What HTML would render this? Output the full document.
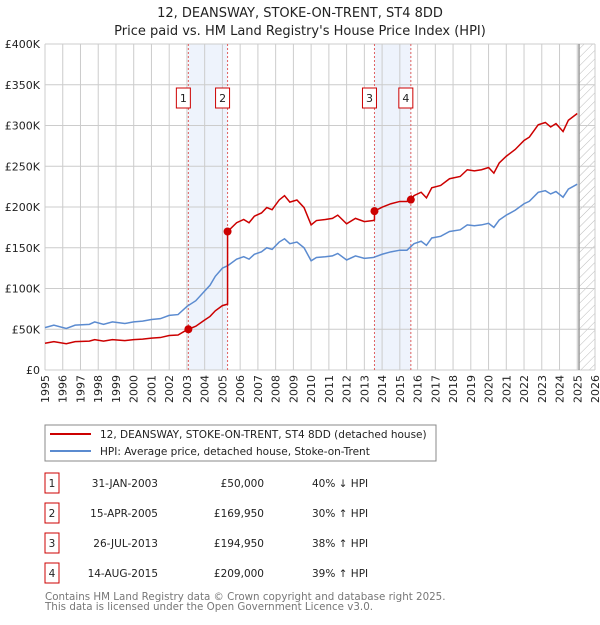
<!DOCTYPE html>
<html><head><meta charset="utf-8"><style>
body{margin:0;background:#fff;font-family:"Liberation Sans","DejaVu Sans",sans-serif;}
svg text{font-family:"DejaVu Sans","Liberation Sans",sans-serif;}
</style></head><body>
<svg id="c" width="600" height="620" xmlns="http://www.w3.org/2000/svg">
<defs><pattern id="hatch" width="6" height="6" patternUnits="userSpaceOnUse" patternTransform="rotate(45)"><line x1="0" y1="0" x2="0" y2="6" stroke="#bbb" stroke-width="1"/></pattern></defs>
<text x="300" y="17" text-anchor="middle" font-size="13" fill="#222">12, DEANSWAY, STOKE-ON-TRENT, ST4 8DD</text>
<text x="300" y="35" text-anchor="middle" font-size="13" fill="#222">Price paid vs. HM Land Registry's House Price Index (HPI)</text>
<g id="plot"></g>
<rect x="45" y="425" width="391" height="36" fill="#fff" stroke="#888"/>
<line x1="50" y1="434" x2="91" y2="434" stroke="#cc0000" stroke-width="2"/>
<text x="100" y="438" font-size="10.5" fill="#222">12, DEANSWAY, STOKE-ON-TRENT, ST4 8DD (detached house)</text>
<line x1="50" y1="451" x2="91" y2="451" stroke="#5b8bd0" stroke-width="2"/>
<text x="100" y="455" font-size="10.5" fill="#222">HPI: Average price, detached house, Stoke-on-Trent</text>
<g id="table" font-size="10.5" fill="#222"></g>
<text x="45" y="600" font-size="10.3" fill="#777">Contains HM Land Registry data © Crown copyright and database right 2025.</text>
<text x="45" y="610" font-size="10.3" fill="#777">This data is licensed under the Open Government Licence v3.0.</text>
</svg>
<script>
const hpiDates=[1995.0,1995.5,1996.2,1996.7,1997.5,1997.8,1998.3,1998.8,1999.5,2000,2000.5,2001,2001.5,2002,2002.5,2003,2003.5,2004,2004.3,2004.6,2005,2005.3,2005.8,2006.2,2006.5,2006.8,2007.2,2007.5,2007.8,2008.2,2008.5,2008.8,2009.2,2009.6,2010,2010.3,2010.8,2011.2,2011.5,2012,2012.5,2013,2013.5,2014,2014.5,2015,2015.4,2015.8,2016.2,2016.5,2016.8,2017.3,2017.8,2018.4,2018.8,2019.2,2019.6,2020,2020.3,2020.6,2021,2021.5,2022,2022.3,2022.8,2023.2,2023.5,2023.8,2024.2,2024.5,2025.0];
const hpiValues=[52,55,51,55,56,59,56,59,57,59,60,62,63,67,68,78,85,97,104,115,125,128,136,139,136,142,145,150,148,157,161,155,157,150,134,138,139,140,143,135,140,137,138,142,145,147,147,155,158,153,162,164,170,172,178,177,178,180,175,184,190,196,204,207,218,220,216,219,212,222,228];
const saleLabels=["1","2","3","4"];
const saleDates=[2003.08,2005.29,2013.57,2015.62];
const salePrices=[50,169.95,194.95,209];
const saleDateText=["31-JAN-2003","15-APR-2005","26-JUL-2013","14-AUG-2015"];
const salePriceText=["£50,000","£169,950","£194,950","£209,000"];
const saleHpiText=["40% ↓ HPI","30% ↑ HPI","38% ↑ HPI","39% ↑ HPI"];
const yTicks=[0,50,100,150,200,250,300,350,400];
const yTickLabels=["£0","£50K","£100K","£150K","£200K","£250K","£300K","£350K","£400K"];
const xYears=[];for(let y=1995;y<=2026;y++)xYears.push(y);

const X0=45,X1=595,Y0=370,Y1=44;
const x=t=>X0+(t-1995)/(2026-1995)*(X1-X0);
const y=v=>Y0-v/400*(Y0-Y1);
const NS="http://www.w3.org/2000/svg";
const g=document.getElementById('plot');
function mk(tag,attrs,parent){const e=document.createElementNS(NS,tag);for(const k in attrs)e.setAttribute(k,attrs[k]);(parent||g).appendChild(e);return e;}
function hpiAt(t){for(let i=0;i<hpiDates.length-1;i++){if(t<=hpiDates[i+1]){const f=(t-hpiDates[i])/(hpiDates[i+1]-hpiDates[i]);return hpiValues[i]+f*(hpiValues[i+1]-hpiValues[i]);}}return hpiValues[hpiValues.length-1];}

for(let i=0;i<saleDates.length;i+=2){
 const r=mk('rect',{x:x(saleDates[i]),y:Y1,width:x(saleDates[i+1])-x(saleDates[i]),height:Y0-Y1,fill:'#eef3fc'});
 
 
}
const hz=mk('rect',{x:x(2025.1),y:Y1,width:X1-x(2025.1),height:Y0-Y1,fill:'url(#hatch)'});


xYears.forEach(yr=>{const l=mk('line',{x1:x(yr),x2:x(yr),y1:Y1,y2:Y0,stroke:'#ccc','stroke-width':1});
 
 
 const tx=x(yr)+4,ty=Y0+5;
 const t=mk('text',{x:tx,y:ty,transform:'rotate(-90 '+tx+' '+ty+')','text-anchor':'end','font-size':11,fill:'#222'});
 t.textContent=yr;
 
 
});
yTicks.forEach((v,i)=>{const l=mk('line',{x1:X0,x2:X1,y1:y(v),y2:y(v),stroke:'#ccc','stroke-width':1});
 
 
 const t=mk('text',{x:X0-5,y:y(v)+4,'text-anchor':'end','font-size':11,fill:'#222'});
 t.textContent=yTickLabels[i];
 
 
});
const cl=mk('line',{x1:x(2025.1),x2:x(2025.1),y1:Y1,y2:Y0,stroke:'#999','stroke-width':1.5});


saleDates.forEach((d,i)=>{
 const l=mk('line',{x1:x(d),x2:x(d),y1:Y1,y2:Y0,stroke:'#e06060','stroke-width':1,'stroke-dasharray':'2,2'});
 
 
 const bx=x(d)-5;
 const r=mk('rect',{x:bx-7,y:88,width:14,height:20,fill:'#fff',stroke:'#cc0000','stroke-width':1});
 
 
 const t=mk('text',{x:bx,y:102,'text-anchor':'middle','font-size':11,fill:'#222'});
 t.textContent=saleLabels[i];
 
 
});
const hp=mk('polyline',{points:hpiDates.map((d,i)=>x(d)+','+y(hpiValues[i])).join(' '),fill:'none',stroke:'#5b8bd0','stroke-width':1.5});


const pts=[];
function factorAt(t){let k=0;for(let i=0;i<saleDates.length;i++)if(t>=saleDates[i])k=i;return salePrices[k]/hpiAt(saleDates[k]);}
hpiDates.forEach((d,i)=>{
 saleDates.forEach((s,k)=>{if(s>(i?hpiDates[i-1]:0)&&s<=d){ if(k>0)pts.push([s,salePrices[k-1]/hpiAt(saleDates[k-1])*hpiAt(s)]); pts.push([s,salePrices[k]]);}});
 pts.push([d,hpiValues[i]*factorAt(d)]);
});
const pl=mk('polyline',{points:pts.map(p=>x(p[0])+','+y(p[1])).join(' '),fill:'none',stroke:'#cc0000','stroke-width':1.5});


saleDates.forEach((d,i)=>{const c=mk('circle',{cx:x(d),cy:y(salePrices[i]),r:4,fill:'#cc0000'});
 
 
});
const tb=document.getElementById('table');
saleLabels.forEach((lab,i)=>{const cy=483+i*30;
 const r=mk('rect',{x:45,y:cy-10,width:14,height:20,fill:'#fff',stroke:'#cc0000'},tb);
 
 
 const cols=[[52,lab,'middle'],[158,saleDateText[i],'end'],[264,salePriceText[i],'end'],[312,saleHpiText[i],'start']];
 cols.forEach(c=>{const t=mk('text',{x:c[0],y:cy+4,'text-anchor':c[2]},tb);t.textContent=c[1];
  
  });
});
</script>
</body></html>
